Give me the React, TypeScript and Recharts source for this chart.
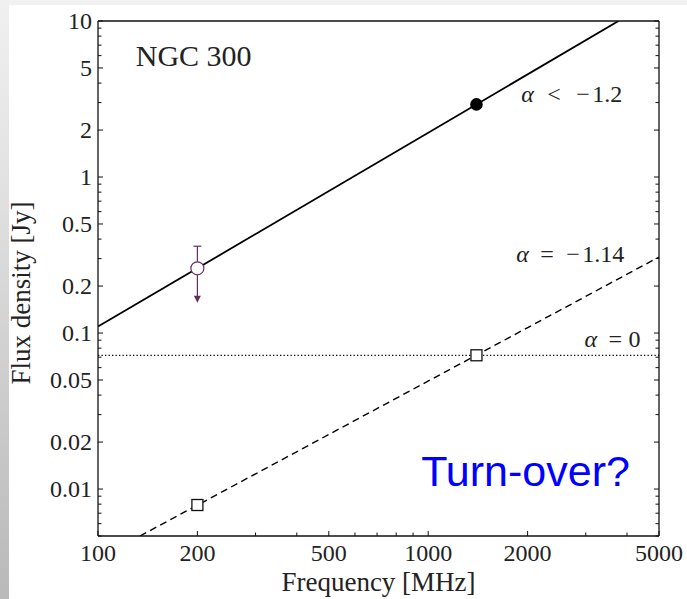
import React from 'react';
import { ComposedChart, Line, Scatter, XAxis, YAxis, ReferenceLine, ReferenceDot } from 'recharts';

// axis ticks
const xTicks = [100, 200, 300, 400, 500, 600, 700, 800, 900, 1000, 2000, 3000, 4000, 5000];
const xLabels = [100, 200, 500, 1000, 2000, 5000];
const yTicks = [
  0.005, 0.006, 0.007, 0.008, 0.009,
  0.01, 0.02, 0.03, 0.04, 0.05, 0.06, 0.07, 0.08, 0.09,
  0.1, 0.2, 0.3, 0.4, 0.5, 0.6, 0.7, 0.8, 0.9,
  1, 2, 3, 4, 5, 6, 7, 8, 9, 10,
];
const yLabels = [0.01, 0.02, 0.05, 0.1, 0.2, 0.5, 1, 2, 5, 10];

// series (frequency in MHz, flux density in Jy)
const fitSteep = [{ f: 100, s: 0.11 }, { f: 3770, s: 10 }];
const fitPredicted = [{ f: 134, s: 0.005 }, { f: 5000, s: 0.307 }];
const flatLevel = 0.072;
const detection = [{ f: 1400, s: 2.92 }];
const limitPoint = [{ f: 200, s: 0.26 }];
const limitBar = [{ f: 200, s: 0.36 }, { f: 200, s: 0.166 }];
const predicted = [{ f: 200, s: 0.0079 }, { f: 1400, s: 0.072 }];

const SERIF = '"Liberation Serif", "Times New Roman", serif';
const SANS = '"Liberation Sans", Arial, sans-serif';
const INK = '#111';
const PURPLE = '#6a2c5c';

const BottomTick = (props: any) => {
  const { x, y, payload } = props;
  const major = xLabels.includes(payload.value);
  return (
    <g>
      <line x1={x} x2={x} y1={y} y2={y - (major ? 5 : 3.5)} stroke={INK} strokeWidth={1} />
      {major && (
        <text x={x} y={y + 17} textAnchor="middle" dominantBaseline="central" fontFamily={SERIF} fontSize={24} fill="#222">
          {payload.value}
        </text>
      )}
    </g>
  );
};

const TopTick = (props: any) => {
  const { x, y, payload } = props;
  const major = xLabels.includes(payload.value);
  return <line x1={x} x2={x} y1={y} y2={y + (major ? 5 : 3.5)} stroke={INK} strokeWidth={1} />;
};

const LeftTick = (props: any) => {
  const { x, y, payload } = props;
  const major = yLabels.includes(payload.value);
  return (
    <g>
      <line x1={x} x2={x + (major ? 5 : 3.5)} y1={y} y2={y} stroke={INK} strokeWidth={1} />
      {major && (
        <text x={x - 6} y={y} textAnchor="end" dominantBaseline="central" fontFamily={SERIF} fontSize={24} fill="#222">
          {payload.value}
        </text>
      )}
    </g>
  );
};

const RightTick = (props: any) => {
  const { x, y, payload } = props;
  const major = yLabels.includes(payload.value);
  return <line x1={x} x2={x - (major ? 5 : 3.5)} y1={y} y2={y} stroke={INK} strokeWidth={1} />;
};

// math style label: italic alpha then pieces at fixed offsets
const alphaLabel = (parts: [string, number][]) => (props: any) => {
  const { x, y } = props.viewBox;
  return (
    <text x={x} y={y} fontFamily={SERIF} fontSize={24} fill="#222">
      <tspan x={x} fontStyle="italic">α</tspan>
      {parts.map(([t, dx], i) => (
        <tspan key={i} x={x + dx}>{t}</tspan>
      ))}
    </text>
  );
};

const plainLabel = (text: string, font: string, size: number, color: string) => (props: any) => {
  const { x, y } = props.viewBox;
  return (
    <text x={x} y={y} fontFamily={font} fontSize={size} fill={color}>
      {text}
    </text>
  );
};

const FilledDot = (props: any) => <circle cx={props.cx} cy={props.cy} r={6.3} fill="#000" />;
const OpenDot = (props: any) => (
  <circle cx={props.cx} cy={props.cy} r={6.5} fill="#fff" stroke={PURPLE} strokeWidth={1.2} />
);
const Square = (props: any) => (
  <rect x={props.cx - 5.5} y={props.cy - 5.5} width={11} height={11} fill="#fff" stroke={INK} strokeWidth={1.3} />
);

const BarEnd = (props: any) => {
  const { cx, cy, index } = props;
  if (index === 0) {
    return <line key="cap" x1={cx - 4} x2={cx + 4} y1={cy} y2={cy} stroke={PURPLE} strokeWidth={1.2} />;
  }
  return <path key="arrow" d={`M${cx - 3.5},${cy - 3} L${cx + 3.5},${cy - 3} L${cx},${cy + 4} Z`} fill={PURPLE} />;
};

export default function App() {
  return (
    <div style={{ position: 'absolute', left: 0, top: 0, width: 687, height: 599, background: '#f1f1f1' }}>
      <div
        style={{
          position: 'absolute', left: 0, top: 0, width: 9, height: 599,
          background: 'linear-gradient(to bottom, #f0f0f0 0%, #e2e2e2 30%, #cdcdcd 65%, #b9b9b9 100%)',
        }}
      />
      <div style={{ position: 'absolute', left: 9, top: 5, width: 678, height: 594, background: '#fff' }} />
      <div style={{ position: 'absolute', left: 0, top: 0 }}>
        <ComposedChart width={687} height={599} margin={{ top: 20, right: 27, bottom: 3, left: 8 }}>
          <XAxis
            xAxisId="b" dataKey="f" type="number" scale="log" domain={[100, 5000]} allowDataOverflow
            ticks={xTicks} interval={0} tickSize={0} tickMargin={0} tick={<BottomTick />}
            axisLine={{ stroke: INK, strokeWidth: 1.3 }} height={60}
            label={{
              content: (p: any) => (
                <text x={p.viewBox.x + p.viewBox.width / 2} y={p.viewBox.y + 46} textAnchor="middle"
                  dominantBaseline="central" fontFamily={SERIF} fontSize={27} fill="#222">
                  Frequency [MHz]
                </text>
              ),
            }}
          />
          <XAxis
            xAxisId="t" orientation="top" type="number" scale="log" domain={[100, 5000]} allowDataOverflow
            ticks={xTicks} interval={0} tickSize={0} tickMargin={0} tick={<TopTick />}
            axisLine={{ stroke: INK, strokeWidth: 1.3 }} height={1}
          />
          <YAxis
            yAxisId="l" dataKey="s" type="number" scale="log" domain={[0.005, 10]} allowDataOverflow
            ticks={yTicks} interval={0} tickSize={0} tickMargin={0} tick={<LeftTick />}
            axisLine={{ stroke: INK, strokeWidth: 1.3 }} width={90}
            label={{
              content: () => (
                <text x={21} y={293} textAnchor="middle" dominantBaseline="central" transform="rotate(-90 21 293)"
                  fontFamily={SERIF} fontSize={27} fill="#222">
                  Flux density [Jy]
                </text>
              ),
            }}
          />
          <YAxis
            yAxisId="r" orientation="right" type="number" scale="log" domain={[0.005, 10]} allowDataOverflow
            ticks={yTicks} interval={0} tickSize={0} tickMargin={0} tick={<RightTick />}
            axisLine={{ stroke: INK, strokeWidth: 1.3 }} width={1}
          />

          <ReferenceLine xAxisId="b" yAxisId="l" y={flatLevel} stroke="#000" strokeWidth={1.3} strokeDasharray="1.3 2.2" />
          <Line xAxisId="b" yAxisId="l" data={fitSteep} dataKey="s" stroke="#000" strokeWidth={1.8} dot={false} isAnimationActive={false} />
          <Line xAxisId="b" yAxisId="l" data={fitPredicted} dataKey="s" stroke="#000" strokeWidth={1.4} strokeDasharray="7 4.5" dot={false} isAnimationActive={false} />
          <Line xAxisId="b" yAxisId="l" data={limitBar} dataKey="s" stroke={PURPLE} strokeWidth={1.2} dot={<BarEnd />} activeDot={false} isAnimationActive={false} />
          <Scatter xAxisId="b" yAxisId="l" data={detection} dataKey="s" shape={<FilledDot />} isAnimationActive={false} />
          <Scatter xAxisId="b" yAxisId="l" data={limitPoint} dataKey="s" shape={<OpenDot />} isAnimationActive={false} />
          <Scatter xAxisId="b" yAxisId="l" data={predicted} dataKey="s" shape={<Square />} isAnimationActive={false} />

          <ReferenceDot xAxisId="b" yAxisId="l" x={131} y={5.05} r={1} fill="none" stroke="none" ifOverflow="visible"
            label={{ content: plainLabel('NGC 300', SERIF, 30, '#222') }} />
          <ReferenceDot xAxisId="b" yAxisId="l" x={1928} y={2.97} r={1} fill="none" stroke="none" ifOverflow="visible"
            label={{ content: alphaLabel([['<', 26], ['−', 55], ['1.2', 71]]) }} />
          <ReferenceDot xAxisId="b" yAxisId="l" x={1862} y={0.28} r={1} fill="none" stroke="none" ifOverflow="visible"
            label={{ content: alphaLabel([['=', 24], ['−', 50], ['1.14', 66]]) }} />
          <ReferenceDot xAxisId="b" yAxisId="l" x={2993} y={0.0798} r={1} fill="none" stroke="none" ifOverflow="visible"
            label={{ content: alphaLabel([['=', 24], ['0', 44]]) }} />
          <ReferenceDot xAxisId="b" yAxisId="l" x={959} y={0.01026} r={1} fill="none" stroke="none" ifOverflow="visible"
            label={{ content: plainLabel('Turn-over?', SANS, 43, '#0000ff') }} />
        </ComposedChart>
      </div>
    </div>
  );
}
